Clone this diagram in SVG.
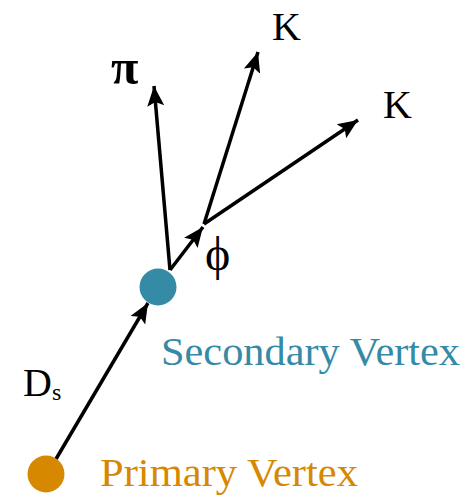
<svg xmlns="http://www.w3.org/2000/svg" width="465" height="495" viewBox="0 0 465 495">
<defs>
<marker id="ah" markerUnits="userSpaceOnUse" markerWidth="24" markerHeight="24" viewBox="0 0 24 24" refX="20" refY="12" orient="auto">
<path d="M0,3.5 L20,12 L0,20.5 L4,12 Z" fill="#000"/>
</marker>
<style>
.c{stroke:#000;stroke-width:3.5;fill:none;marker-end:url(#ah)}
.t{font-family:"Liberation Serif","Times New Roman",serif;fill:#000}
</style>
</defs>
<rect width="465" height="495" fill="#fff"/>
<g id="connectors">
<line class="c" x1="56" y1="459" x2="148" y2="303"/>
<line class="c" x1="170" y1="270" x2="154" y2="86"/>
<line class="c" x1="170" y1="270" x2="203" y2="227"/>
<line class="c" x1="204" y1="224" x2="258" y2="52"/>
<line class="c" x1="204" y1="224" x2="358" y2="120"/>
</g>
<g id="primary">
<circle cx="46" cy="474" r="18.5" fill="#d68800"/>
<text class="t" x="100" y="486" font-size="40" style="fill:#d68800" textLength="258" lengthAdjust="spacingAndGlyphs">Primary Vertex</text>
</g>
<g id="secondary">
<circle cx="158" cy="287" r="18.5" fill="#358aa6"/>
<text class="t" x="161" y="365" font-size="40" style="fill:#358aa6" textLength="299" lengthAdjust="spacingAndGlyphs">Secondary Vertex</text>
</g>
<g id="ds"><text class="t" x="23" y="396" font-size="40">D<tspan font-size="24" dy="4">s</tspan></text></g>
<g id="pi"><text class="t" x="111" y="84" font-size="50" font-weight="bold">π</text></g>
<g id="phi"><text class="t" x="205" y="270" font-size="48">ϕ</text></g>
<g id="k1"><text class="t" x="272" y="40" font-size="40">K</text></g>
<g id="k2"><text class="t" x="383" y="118" font-size="40">K</text></g>
</svg>
